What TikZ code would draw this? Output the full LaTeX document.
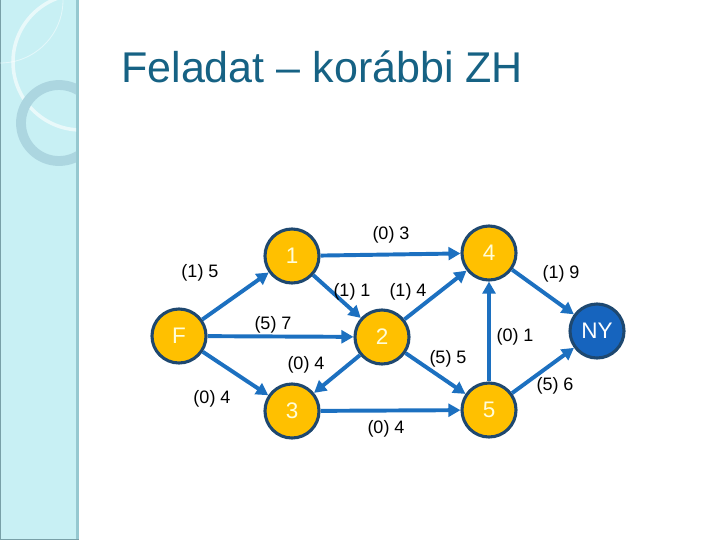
\documentclass[tikz,border=0pt]{standalone}
\usepackage{fontspec}
\setmainfont{Liberation Sans}
\usepackage{xcolor}
\usetikzlibrary{arrows.meta,positioning}
\definecolor{bandcyan}{RGB}{200,240,244}
\definecolor{bandedge}{RGB}{150,200,208}
\definecolor{ringblue}{RGB}{172,214,224}
\definecolor{titleblue}{RGB}{22,98,132}
\definecolor{edgeblue}{RGB}{28,112,192}
\definecolor{nodegold}{RGB}{255,192,0}
\definecolor{rimblue}{RGB}{30,72,112}
\definecolor{sinkblue}{RGB}{22,100,190}

\begin{document}
\begin{tikzpicture}[x=0.025cm, y=-0.025cm, vtx/.style={circle, draw=rimblue, line width=2.2pt, fill=nodegold, minimum size=1.35cm, inner sep=0pt, text=yellow!15, font=\fontsize{16}{16}\selectfont}, sink/.style={vtx, fill=sinkblue, text=white}, arr/.style={-{Triangle[length=0.3cm,width=0.32cm]}, line width=2.8pt, draw=edgeblue}, lbl/.style={font=\fontsize{12.8}{13}\selectfont, inner sep=1pt}]
\useasboundingbox (0,0) rectangle (720,540);
% side band
\fill[bandcyan] (0,0) rectangle (78,540);
\fill[bandedge] (76,0) rectangle (79,540);
\draw[bandedge!80!black, line width=1pt] (0.5,0) -- (0.5,539.5) -- (79,539.5);
\begin{scope}
\clip (0,0) rectangle (76,540);
\draw[white, opacity=0.6, line width=2.5pt] (81,62) circle (68);
\draw[white, opacity=0.5, line width=0.6pt] (0,0) circle (63);
\draw[ringblue, line width=7pt] (59,123) circle (38);
\end{scope}
% title
\node[anchor=base west, text=titleblue, font=\fontsize{30.6}{31}\selectfont, inner sep=0pt] (title) at (121,82) {Feladat -- korábbi ZH};
% graph
\node[vtx] (F) at (179,336) {F};
\node[vtx] (n1) at (292,256) {1};
\node[vtx] (n2) at (382,337) {2};
\node[vtx] (n3) at (292,411) {3};
\node[vtx] (n4) at (489,253) {4};
\node[vtx] (n5) at (489,410) {5};
\node[sink] (NY) at (597,331) {NY};
\draw[arr] (F)--(n1);
\draw[arr] (F)--(n2);
\draw[arr] (F)--(n3);
\draw[arr] (n1)--(n4);
\draw[arr] (n1)--(n2);
\draw[arr] (n2)--(n4);
\draw[arr] (n2)--(n3);
\draw[arr] (n2)--(n5);
\draw[arr] (n3)--(n5);
\draw[arr] (n5)--(n4);
\draw[arr] (n4)--(NY);
\draw[arr] (n5)--(NY);
% labels
\node[lbl] (l14) at (391,235) {(0) 3};
\node[lbl] (lF1) at (200,273) {(1) 5};
\node[lbl] (l12) at (352,292) {(1) 1};
\node[lbl] (l24) at (408,292) {(1) 4};
\node[lbl] (lF2) at (273,325) {(5) 7};
\node[lbl] (l23) at (306,365) {(0) 4};
\node[lbl] (lF3) at (212,399) {(0) 4};
\node[lbl] (l4N) at (561,274) {(1) 9};
\node[lbl] (l54) at (515,337) {(0) 1};
\node[lbl] (l25) at (448,359) {(5) 5};
\node[lbl] (l5N) at (555,386) {(5) 6};
\node[lbl] (l35) at (386,429) {(0) 4};
\end{tikzpicture}
\end{document}
